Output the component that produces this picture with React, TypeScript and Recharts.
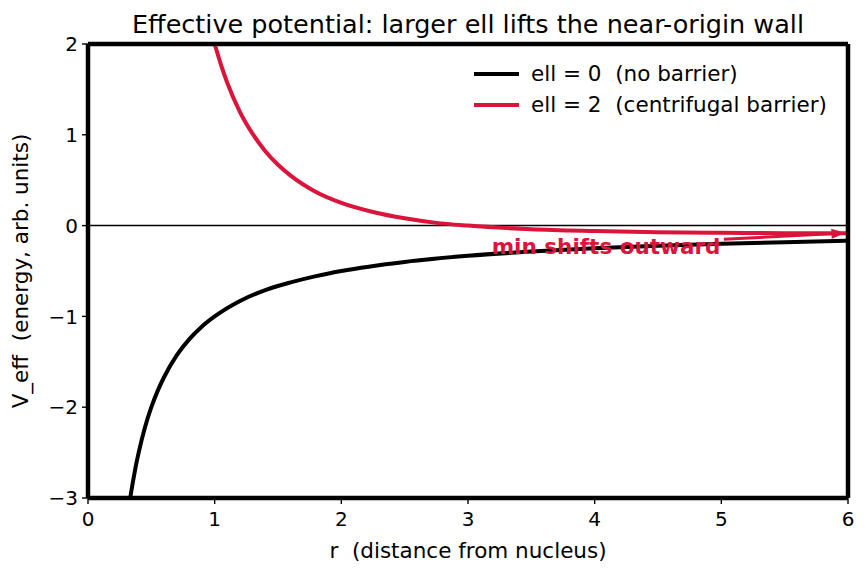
import {
  LineChart,
  Line,
  XAxis,
  YAxis,
  ReferenceLine,
  ReferenceDot,
} from "recharts";

const FONT = "'DejaVu Sans', sans-serif";
const CRIMSON = "#dc143c";

// r samples and V_eff values for each curve
const R_FREE = [0.333, 0.35, 0.38, 0.4, 0.45, 0.5, 0.55, 0.6, 0.7, 0.8, 0.9, 1.0, 1.2, 1.4, 1.6, 1.8, 2.0, 2.5, 3.0, 3.5, 4.0, 4.5, 5.0, 5.5, 6.0];
const V_FREE = [-3.0, -2.86, -2.63, -2.5, -2.22, -2.0, -1.82, -1.67, -1.43, -1.25, -1.11, -1.0, -0.83, -0.71, -0.625, -0.556, -0.5, -0.4, -0.333, -0.286, -0.25, -0.222, -0.2, -0.182, -0.167];
const R_BARRIER = [1.0, 1.05, 1.1, 1.2, 1.3, 1.4, 1.5, 1.6, 1.8, 2.0, 2.25, 2.5, 2.75, 3.0, 3.5, 4.0, 4.5, 5.0, 5.5, 6.0];
const V_BARRIER = [2.0, 1.77, 1.57, 1.25, 1.01, 0.82, 0.67, 0.55, 0.37, 0.25, 0.15, 0.08, 0.03, 0.0, -0.04, -0.06, -0.074, -0.08, -0.083, -0.083];

const X_TICKS = [0, 1, 2, 3, 4, 5, 6];
const Y_TICKS = [-3, -2, -1, 0, 1, 2];

const SERIES = [
  { key: "free", name: "ell = 0 \u00a0(no barrier)", color: "#000000" },
  { key: "barrier", name: "ell = 2 \u00a0(centrifugal barrier)", color: CRIMSON },
];

// merge both curves onto one r column
const allR = Array.from(new Set([...R_FREE, ...R_BARRIER])).sort((a, b) => a - b);
const data = allR.map((r) => {
  const i = R_FREE.indexOf(r);
  const j = R_BARRIER.indexOf(r);
  return {
    r,
    free: i >= 0 ? V_FREE[i] : null,
    barrier: j >= 0 ? V_BARRIER[j] : null,
  };
});

const fmt = (v: number) => (v < 0 ? "\u2212" + Math.abs(v) : String(v));

const tickStyle = { fontSize: 20, fill: "#000", fontFamily: FONT };
const tickLine = { stroke: "#000", strokeWidth: 1.4 };
const spine = { stroke: "#000", strokeWidth: 4.5 };

function LegendBox() {
  return (
    <div style={{ position: "absolute", left: 474, top: 58, fontFamily: FONT, fontSize: 21.5, color: "#000" }}>
      {SERIES.map((s) => (
        <div key={s.key} style={{ display: "flex", alignItems: "center", height: 31, whiteSpace: "pre" }}>
          <div style={{ width: 45, height: 4, background: s.color, marginRight: 12 }} />
          <span>{s.name}</span>
        </div>
      ))}
    </div>
  );
}

function Arrow(props: any) {
  const { x1, y1, x2, y2 } = props;
  const ang = Math.atan2(y2 - y1, x2 - x1);
  const len = 14;
  const half = 5;
  const bx = x2 - len * Math.cos(ang);
  const by = y2 - len * Math.sin(ang);
  const px = -Math.sin(ang) * half;
  const py = Math.cos(ang) * half;
  return (
    <g>
      <line x1={x1} y1={y1} x2={bx} y2={by} stroke={CRIMSON} strokeWidth={3} />
      <polygon points={`${x2},${y2} ${bx + px},${by + py} ${bx - px},${by - py}`} fill={CRIMSON} />
    </g>
  );
}

function Note(props: any) {
  const { cx, cy } = props;
  return (
    <text x={cx} y={cy} textAnchor="middle" dominantBaseline="central" fill={CRIMSON}
      fontFamily={FONT} fontSize={21.5} fontWeight="bold">
      min shifts outward
    </text>
  );
}

export default function App() {
  return (
    <div style={{ position: "absolute", left: 0, top: 0, width: 868, height: 573, background: "#fff" }}>
      <svg width={868} height={44} style={{ position: "absolute", left: 0, top: 0 }}>
        <text x={468} y={24} textAnchor="middle" dominantBaseline="central" fontFamily={FONT} fontSize={25.5} fill="#000">
          Effective potential: larger ell lifts the near-origin wall
        </text>
      </svg>
      <LineChart width={868} height={573} data={data} margin={{ top: 44, right: 20, left: 0, bottom: 0 }}>
        <XAxis
          dataKey="r"
          type="number"
          domain={[0, 6]}
          ticks={X_TICKS}
          tickFormatter={fmt}
          height={75}
          tick={tickStyle}
          tickLine={tickLine}
          tickSize={6}
          tickMargin={8}
          axisLine={spine}
          allowDataOverflow
          label={{ value: "r \u00a0(distance from nucleus)", position: "insideBottom", offset: 15, fontSize: 21.5, fill: "#000", fontFamily: FONT }}
        />
        <YAxis
          type="number"
          domain={[-3, 2]}
          ticks={Y_TICKS}
          tickFormatter={fmt}
          width={88}
          tick={tickStyle}
          tickLine={tickLine}
          tickSize={6}
          tickMargin={4}
          axisLine={spine}
          allowDataOverflow
          label={{ value: "V_eff \u00a0(energy, arb. units)", angle: -90, position: "insideLeft", offset: 20, fontSize: 21.5, fill: "#000", fontFamily: FONT, style: { textAnchor: "middle" } }}
        />
        <ReferenceLine y={0} stroke="#000" strokeWidth={1.5} />
        {SERIES.map((s) => (
          <Line
            key={s.key}
            dataKey={s.key}
            name={s.name}
            type="monotone"
            stroke={s.color}
            strokeWidth={4}
            dot={false}
            activeDot={false}
            connectNulls
            isAnimationActive={false}
          />
        ))}
        <ReferenceDot x={4.09} y={-0.23} r={0} shape={Note} ifOverflow="visible" />
        <ReferenceLine segment={[{ x: 5.02, y: -0.15 }, { x: 5.98, y: -0.082 }]} shape={Arrow} ifOverflow="visible" />
        {/* top and right spines */}
        <ReferenceLine y={2} stroke="#000" strokeWidth={4.5} ifOverflow="visible" />
        <ReferenceLine x={6} stroke="#000" strokeWidth={4.5} ifOverflow="visible" />
      </LineChart>
      <LegendBox />
    </div>
  );
}
